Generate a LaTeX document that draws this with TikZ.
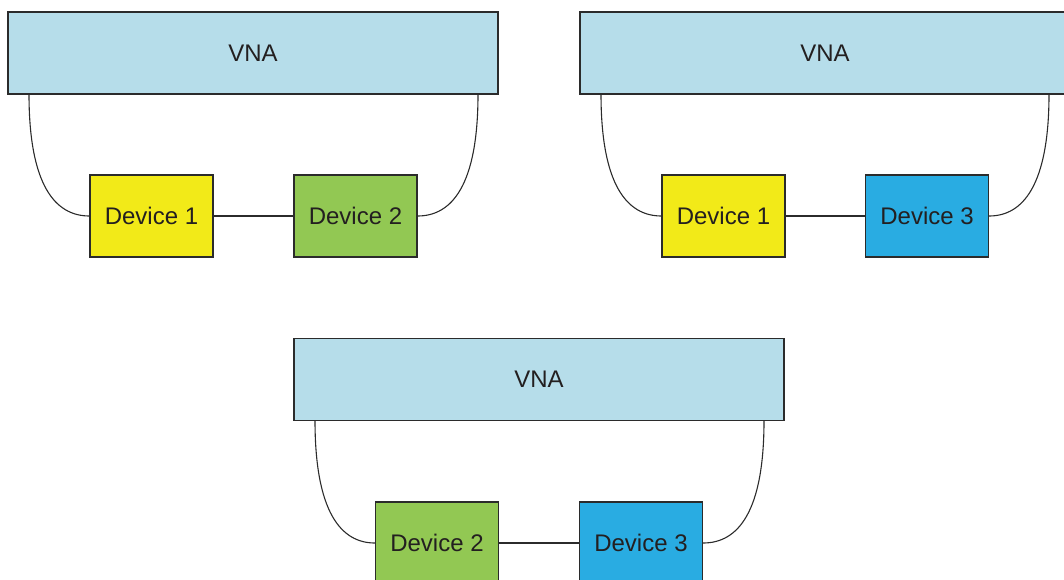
\documentclass[tikz,border=0pt]{standalone}
\usepackage{fontspec}
\setmainfont{Liberation Sans}
\definecolor{vnafill}{HTML}{B6DDEA}
\definecolor{devyellow}{HTML}{F2EA18}
\definecolor{devgreen}{HTML}{92C853}
\definecolor{devblue}{HTML}{29ACE2}
\definecolor{edge}{HTML}{2B2B2B}
\definecolor{ink}{HTML}{231F20}
\begin{document}
\begin{tikzpicture}[x=1pt,y=-1pt,
  box/.style={draw=edge,line width=1.2pt,text=ink,font=\fontsize{24}{27}\selectfont},
  vna/.style={box,fill=vnafill,minimum width=490pt,minimum height=82pt},
  dev/.style={box,minimum width=123pt,minimum height=82pt},
  wire/.style={draw=edge,line width=1.1pt}]
\useasboundingbox (0,0) rectangle (1064,579);
\begin{scope}
\clip (0,0) rectangle (1064,579);
% --- upper left set: VNA with Device 1 and Device 2
\node[vna] (vnaA) at (253,53) {VNA};
\node[dev,fill=devyellow] (a1) at (151.5,216) {Device 1};
\node[dev,fill=devgreen] (a2) at (355.5,216) {Device 2};
\coordinate (aL) at (29,94);
\coordinate (aR) at (478,94);
\draw[wire] (aL) .. controls (29,185) and (55,216) .. (a1.west);
\draw[wire] (a1.east) -- (a2.west);
\draw[wire] (aR) .. controls (478,185) and (452,216) .. (a2.east);
% --- upper right set: VNA with Device 1 and Device 3
\node[vna] (vnaB) at (825,53) {VNA};
\node[dev,fill=devyellow] (b1) at (723.5,216) {Device 1};
\node[dev,fill=devblue] (b3) at (927,216) {Device 3};
\coordinate (bL) at (601,94);
\coordinate (bR) at (1049,94);
\draw[wire] (bL) .. controls (601,185) and (627,216) .. (b1.west);
\draw[wire] (b1.east) -- (b3.west);
\draw[wire] (bR) .. controls (1049,185) and (1023,216) .. (b3.east);
% --- lower set: VNA with Device 2 and Device 3
\node[vna] (vnaC) at (539,379.5) {VNA};
\node[dev,fill=devgreen] (c2) at (437,543) {Device 2};
\node[dev,fill=devblue] (c3) at (641,543) {Device 3};
\coordinate (cL) at (315,420.5);
\coordinate (cR) at (764,420.5);
\draw[wire] (cL) .. controls (315,512) and (341,543) .. (c2.west);
\draw[wire] (c2.east) -- (c3.west);
\draw[wire] (cR) .. controls (764,512) and (738,543) .. (c3.east);
\end{scope}
\end{tikzpicture}
\end{document}
